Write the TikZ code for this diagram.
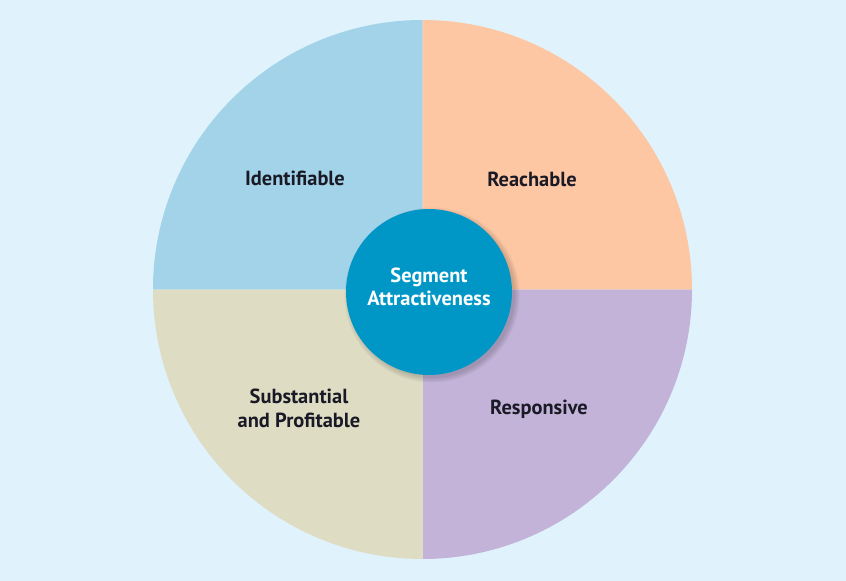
\documentclass[tikz,border=0pt]{standalone}
\usepackage{fontspec}
\setmainfont{PT Sans}
\definecolor{bgblue}{HTML}{E0F3FC}
\definecolor{qblue}{HTML}{A3D3E8}
\definecolor{qpeach}{HTML}{FDC7A4}
\definecolor{qpurple}{HTML}{C3B3D8}
\definecolor{qbeige}{HTML}{DFDCC4}
\definecolor{hub}{HTML}{0097C7}
\definecolor{labeltext}{HTML}{1A1A26}
\begin{document}
\begin{tikzpicture}[x=1bp,y=-1bp,
  quad/.style={font=\bfseries\fontsize{20.5}{24}\selectfont, text=labeltext, align=center},
  hublabel/.style={font=\bfseries\fontsize{20.5}{23}\selectfont, text=white, align=center}]
  % background
  \fill[bgblue] (0,0) rectangle (846,581);
  \useasboundingbox (0,0) rectangle (846,581);
  \coordinate (c) at (422.5,289.5);
  % four quadrants of the wheel (y axis points down)
  \fill[qblue]   (c) -- ++(-269.5,0) arc[start angle=180,end angle=270,radius=269.5] -- cycle;
  \fill[qpeach]  (c) -- ++(0,-269.5) arc[start angle=-90,end angle=0,radius=269.5] -- cycle;
  \fill[qpurple] (c) -- ++(269.5,0) arc[start angle=0,end angle=90,radius=269.5] -- cycle;
  \fill[qbeige]  (c) -- ++(0,269.5) arc[start angle=90,end angle=180,radius=269.5] -- cycle;
  % soft drop shadow of the hub, towards the lower right
  \foreach \r in {83,84.5,86,87.5}
    \fill[black, opacity=0.045] (432,295) circle[radius=\r];
  % hub
  \node[circle, fill=hub, minimum size=166bp, inner sep=0pt] (hub) at (429,292) {};
  \node[hublabel] (hubtext) at (429,287) {Segment\\Attractiveness};
  % quadrant labels
  \node[quad] (ident) at (295,178) {Identifiable};
  \node[quad] (reach) at (532,179) {Reachable};
  \node[quad] (subst) at (299,408) {Substantial\\and Profitable};
  \node[quad] (resp)  at (539,409) {Responsive};
\end{tikzpicture}
\end{document}
